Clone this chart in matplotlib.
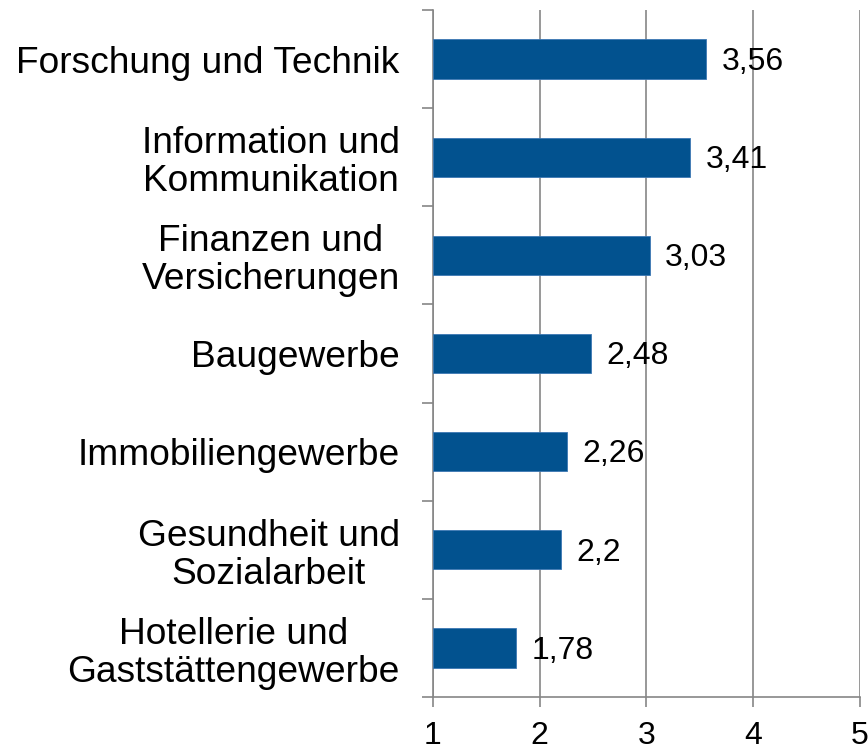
import matplotlib
matplotlib.use("Agg")
import matplotlib.pyplot as plt
import numpy as np

categories = ["Forschung und Technik", "Information und\nKommunikation", "Finanzen und\nVersicherungen",
              "Baugewerbe", "Immobiliengewerbe", "Gesundheit und\nSozialarbeit",
              "Hotellerie und\nGaststättengewerbe"]
values = [3.56, 3.41, 3.03, 2.48, 2.26, 2.2, 1.78]
value_labels = ["3,56", "3,41", "3,03", "2,48", "2,26", "2,2", "1,78"]
xticks = [1, 2, 3, 4, 5]

plt.rcParams['font.family'] = ['Liberation Sans', 'DejaVu Sans']

fig = plt.figure(figsize=(8.68, 7.49), dpi=100)
ax = fig.add_axes([0.4988, 0.0694, 0.4920, 0.9172])

n = len(categories)
ypos = np.arange(n)[::-1]
base = 1
ax.barh(ypos, [v - base for v in values], left=base, height=0.4, color='#02528F',
        edgecolor='#3C78B4', linewidth=0.6, zorder=3)
for y, v, lab in zip(ypos, values, value_labels):
    ax.annotate(lab, xy=(v, y), xytext=(11, -2), textcoords='offset points',
                ha='left', va='center', fontsize=23, color='#000000', zorder=4)

ax.set_xlim(1, 5)
ax.set_ylim(-0.5, n - 0.5)
ax.set_xticks(xticks)
ax.set_xticklabels([str(t) for t in xticks], fontsize=23)
ax.set_yticks(ypos)
ax.set_yticklabels(categories, fontsize=26.7, ha='right', multialignment='center', linespacing=1.1)
ax.set_yticks(np.arange(-0.5, n), minor=True)

ax.tick_params(axis='y', which='major', length=0, pad=24)
ax.tick_params(axis='y', which='minor', length=8, width=1.2, color='#868686', direction='out')
ax.tick_params(axis='x', which='major', length=7, width=1.2, color='#868686', direction='out', pad=10)

for s in ['top', 'right']:
    ax.spines[s].set_visible(False)
for s in ['left', 'bottom']:
    ax.spines[s].set_color('#868686')
    ax.spines[s].set_linewidth(1.2)

ax.grid(axis='x', color='#868686', linewidth=1.2, zorder=0)
ax.set_axisbelow(True)

fig.savefig("out.png", dpi=100)
